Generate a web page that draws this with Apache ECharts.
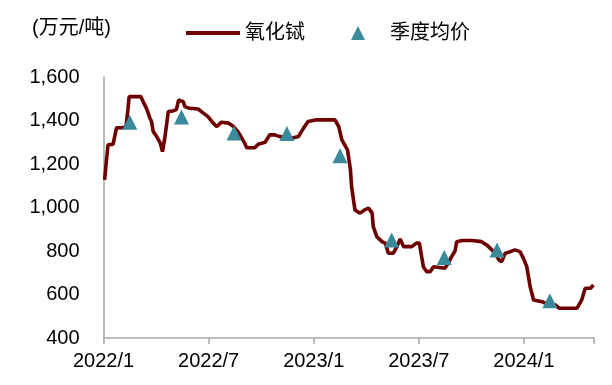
<!DOCTYPE html>
<html><head><meta charset="utf-8">
<script src="https://cdn.jsdelivr.net/npm/echarts@6/dist/echarts.min.js"></script>
<style>html,body{margin:0;padding:0;background:#fff}#c{width:612px;height:385px}</style>
</head><body><div id="c"></div>
<script>
var unitLabel = '(万元/吨)';
var seriesNames = ['氧化铽', '季度均价'];
var xTickLabels = ['2022/1', '2022/7', '2023/1', '2023/7', '2024/1'];
var yTicks = [400, 600, 800, 1000, 1200, 1400, 1600];

var priceDates = ['2022-01-03','2022-01-06','2022-01-08','2022-01-09','2022-01-18','2022-01-24','2022-02-02','2022-02-09','2022-02-12','2022-02-14',
'2022-03-05','2022-03-09','2022-03-15','2022-03-21','2022-03-24','2022-03-27','2022-04-02','2022-04-08','2022-04-12','2022-04-16',
'2022-04-22','2022-04-30','2022-05-06','2022-05-10','2022-05-14','2022-05-18','2022-05-21','2022-05-29','2022-06-13','2022-06-22',
'2022-06-30','2022-07-03','2022-07-09','2022-07-15','2022-07-24','2022-08-05','2022-08-14','2022-08-22','2022-08-29','2022-09-03',
'2022-09-06','2022-09-20','2022-09-26','2022-10-08','2022-10-16','2022-10-25','2022-11-03','2022-11-23','2022-12-05','2022-12-14',
'2022-12-22','2022-12-31','2023-01-06','2023-02-07','2023-02-13','2023-02-18','2023-02-27','2023-03-04','2023-03-06','2023-03-12',
'2023-03-21','2023-03-29','2023-04-05','2023-04-11','2023-04-13','2023-04-19','2023-04-28','2023-05-04','2023-05-09','2023-05-18',
'2023-05-24','2023-05-30','2023-06-05','2023-06-19','2023-06-27','2023-07-02','2023-07-06','2023-07-09','2023-07-15','2023-07-21',
'2023-07-27','2023-08-16','2023-08-22','2023-08-28','2023-09-03','2023-09-06','2023-09-15','2023-10-02','2023-10-19','2023-10-28',
'2023-11-12','2023-11-18','2023-11-23','2023-11-29','2023-12-08','2023-12-16','2023-12-25','2023-12-31','2024-01-06','2024-01-09',
'2024-01-12','2024-01-18','2024-02-02','2024-02-07','2024-02-24','2024-03-01','2024-04-02','2024-04-10','2024-04-16','2024-04-25',
'2024-04-30'];
var priceValues = [1127,1211,1215,1288,1291,1366,1367,1370,1450,1510,
1510,1487,1456,1412,1395,1349,1326,1297,1257,1320,
1441,1444,1450,1495,1490,1487,1464,1456,1453,1434,
1418,1411,1388,1372,1392,1388,1372,1349,1318,1295,
1275,1275,1291,1300,1334,1334,1326,1318,1326,1365,
1395,1400,1403,1403,1372,1311,1265,1173,1096,989,
974,989,997,974,912,866,843,835,790,790,
820,855,820,820,836,836,774,728,705,705,
728,721,744,774,800,843,848,848,843,828,
790,759,751,790,797,805,797,767,728,682,
636,575,567,560,552,537,537,575,629,629,
644];

var quarterDates = ['2022-02-15','2022-05-15','2022-08-15','2022-11-15','2023-02-15','2023-05-15','2023-08-15','2023-11-15','2024-02-15'];
var quarterValues = [1392,1416,1343,1340,1238,851,770,805,571];

function toMonth(s){
  var p = s.split('-').map(Number);
  var dim = new Date(p[0], p[1], 0).getDate();
  return (p[0]-2022)*12 + (p[1]-1) + (p[2]-1)/dim;
}

var lineData = priceDates.map(function(d,i){return [toMonth(d), priceValues[i]];});
var triData = quarterDates.map(function(d,i){return [toMonth(d), quarterValues[i]];});

var FONT = '"Liberation Sans", Arial, "Noto Sans CJK SC", sans-serif';
var AXIS = '#a6a6a6';

var chart = echarts.init(document.getElementById('c'));
chart.setOption({
  animation: false,
  textStyle: {fontFamily: FONT},
  title: {text: unitLabel, left: 27, top: 13, textStyle: {fontSize: 20, fontWeight: 'normal', color: '#000', fontFamily: FONT}},
  legend: [
    {data: [{name: seriesNames[0], icon: 'rect'}], left: 181, top: 18, itemWidth: 54, itemHeight: 4,
     textStyle: {fontSize: 20, color: '#000', fontFamily: FONT}},
    {data: [{name: seriesNames[1], icon: 'triangle'}], left: 346, top: 18, itemWidth: 14, itemHeight: 14,
     textStyle: {fontSize: 20, color: '#000', fontFamily: FONT, padding: [0,0,0,20]}}
  ],
  grid: {left: 103.5, right: 18, top: 77, bottom: 47},
  xAxis: {
    type: 'value', min: 0, max: 28, interval: 6,
    axisLine: {lineStyle: {color: AXIS, width: 1.5}},
    axisTick: {show: true, length: 6, lineStyle: {color: AXIS, width: 1.5}},
    splitLine: {show: false},
    axisLabel: {fontSize: 20, color: '#000', margin: 13, fontFamily: FONT,
      formatter: function(v){ var i = Math.round(v/6); return xTickLabels[i] || ''; }}
  },
  yAxis: {
    type: 'value', min: yTicks[0], max: yTicks[yTicks.length-1], interval: 200,
    axisLine: {show: true, lineStyle: {color: AXIS, width: 1.5}},
    axisTick: {show: false},
    splitLine: {show: false},
    axisLabel: {fontSize: 20, color: '#000', margin: 24, fontFamily: FONT,
      formatter: function(v){ return v.toLocaleString('en-US'); }}
  },
  series: [
    {name: seriesNames[0], type: 'line', data: lineData, showSymbol: false, symbol: 'none',
     lineStyle: {color: '#6e0000', width: 3.6}, itemStyle: {color: '#6e0000'}, z: 2},
    {name: seriesNames[1], type: 'scatter', data: triData, symbol: 'triangle', symbolSize: [15, 15],
     itemStyle: {color: '#3a8a9c', opacity: 1}, z: 3}
  ]
});
</script></body></html>
